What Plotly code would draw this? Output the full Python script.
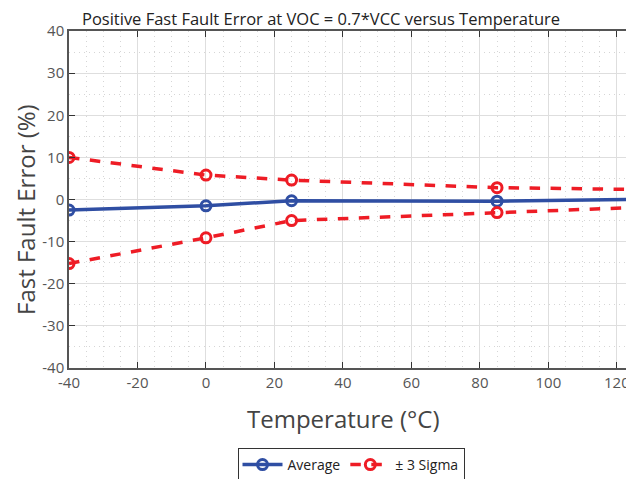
import plotly.graph_objects as go

temps = [-40, 0, 25, 85, 125]
average = [-2.5, -1.5, -0.3, -0.4, 0.0]
sigma_hi = [10.0, 5.8, 4.6, 2.8, 2.4]
sigma_lo = [-15.2, -9.1, -5.0, -3.1, -1.9]

x_ticks = [-40, -20, 0, 20, 40, 60, 80, 100, 120]
y_ticks = [-40, -30, -20, -10, 0, 10, 20, 30, 40]

BLUE = "#2f4ea3"
RED = "#ee1c25"
FONT = "Open Sans"

# page body has an 8px margin, so the figure is sized/offset to compensate
W, H = 626, 471
L, T, B = 61, 23, 111
PW = W - L
PH = H - T - B

fig = go.Figure()
fig.add_trace(go.Scatter(
    x=temps, y=average, name="Average", mode="lines+markers",
    line=dict(color=BLUE, width=3.5),
    marker=dict(symbol="circle-open", size=10, color=BLUE, line=dict(width=3)),
))
fig.add_trace(go.Scatter(
    x=temps, y=sigma_hi, name="± 3 Sigma", mode="lines+markers", legendgroup="s",
    line=dict(color=RED, width=3.5, dash="dash"),
    marker=dict(symbol="circle-open", size=10, color=RED, line=dict(width=3)),
))
fig.add_trace(go.Scatter(
    x=temps, y=sigma_lo, name="± 3 Sigma", mode="lines+markers", legendgroup="s",
    showlegend=False,
    line=dict(color=RED, width=3.5, dash="dash"),
    marker=dict(symbol="circle-open", size=10, color=RED, line=dict(width=3)),
))

axis_common = dict(
    showgrid=True, gridcolor="#dedede", gridwidth=1,
    showline=True, linecolor="#555555", linewidth=1.5, mirror="ticks",
    ticks="inside", ticklen=6, tickcolor="#333333",
    tickfont=dict(family=FONT, size=15, color="#555555"),
    zeroline=False,
    minor=dict(showgrid=True, gridcolor="#d6d6d6", griddash="1px,4px", gridwidth=1),
)

fig.update_layout(
    width=W, height=H,
    margin=dict(l=L, r=0, t=T, b=B, autoexpand=False),
    paper_bgcolor="white", plot_bgcolor="white",
    font=dict(family=FONT, color="#444444"),
    title=dict(text="Positive Fast Fault Error at VOC = 0.7*VCC versus Temperature",
               x=313 / W, xanchor="center", y=1 - 11 / H, yanchor="middle",
               font=dict(family=FONT, size=16.5, color="#222222")),
    xaxis=dict(range=[-40, 125], tickvals=x_ticks, ticktext=[str(v) for v in x_ticks],
               **axis_common),
    yaxis=dict(range=[-40, 40], tickvals=y_ticks, ticktext=[str(v) for v in y_ticks],
               **axis_common),
    legend=dict(orientation="h", x=(343 - L) / PW, xanchor="center",
                y=-(440 - (T + PH)) / PH, yanchor="top",
                bordercolor="#333333", borderwidth=1, itemwidth=40,
                font=dict(family=FONT, size=14, color="#222222")),
    annotations=[
        dict(text="Temperature (°C)", xref="paper", yref="paper",
             x=(335 - L) / PW, y=-(410 - (T + PH)) / PH, xanchor="center", yanchor="middle",
             showarrow=False, font=dict(family=FONT, size=24, color="#444444")),
        dict(text="Fast Fault Error (%)", xref="paper", yref="paper", textangle=-90,
             x=(17 - L) / PW, y=((T + PH) - 202) / PH, xanchor="center", yanchor="middle",
             showarrow=False, font=dict(family=FONT, size=24, color="#444444")),
    ],
)
fig.update_xaxes(minor=dict(dtick=5, tick0=-40))
fig.update_yaxes(minor=dict(dtick=5, tick0=-40))

fig.write_html("out.html")
